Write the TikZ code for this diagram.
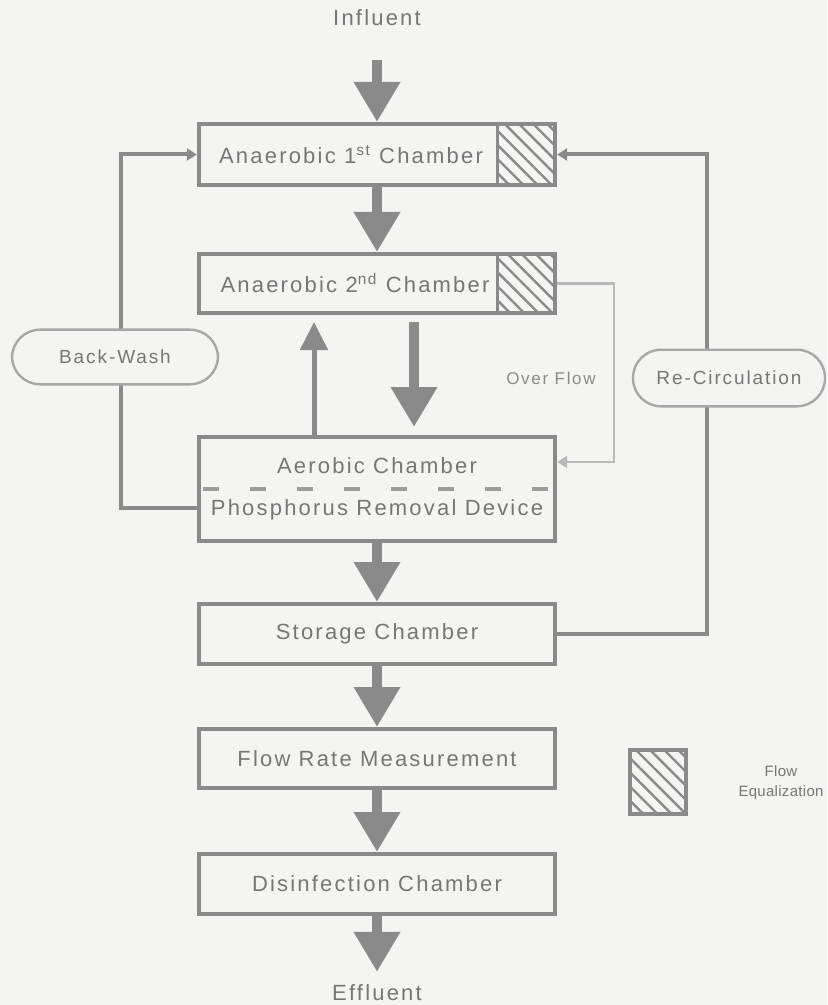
\documentclass[tikz,border=0pt]{standalone}
\usepackage{fontspec}
\setmainfont{Liberation Sans}[LetterSpace=10]
\usetikzlibrary{arrows.meta,patterns.meta}
\definecolor{boxgray}{RGB}{138,138,138}
\definecolor{txtgray}{RGB}{118,118,118}
\definecolor{paper}{RGB}{244,244,242}

\begin{document}
\begin{tikzpicture}[x=0.5pt, y=-0.5pt,
	every node/.style={font=\fontsize{11}{13}\selectfont, text=txtgray},
	chamber/.style={draw=boxgray, line width=2.2pt, fill=paper, minimum width=178pt, inner sep=0pt},
	flow/.style={draw=boxgray, line width=5pt, -{Triangle[length=20pt, width=22pt]}},
	thinflow/.style={draw=boxgray, line width=2.5pt, -{Triangle[length=14pt, width=13.5pt]}},
	loopline/.style={draw=boxgray, line width=2pt, -{Triangle[length=5pt, width=6pt]}},
	overline/.style={draw=boxgray!60, line width=1.2pt, -{Triangle[length=5pt, width=6pt]}},
	tag/.style={draw=boxgray!75, line width=1.2pt, fill=paper, rounded corners=14pt, font=\fontsize{9.5}{11}\selectfont},
	hatch/.style={pattern={Lines[angle=-45, distance=5pt, line width=1.2pt]}, pattern color=boxgray}]
	\fill[paper] (0,0) rectangle (827,1005);
	\useasboundingbox (0,0) rectangle (827,1005);

	\node (influent) at (377,18) {Influent};
	\node[chamber, minimum height=30.3pt] (an1) at (377,154.5) {Anaerobic 1\textsuperscript{st} Chamber\kern26pt\null};
	\node[chamber, minimum height=29.3pt] (an2) at (377,283.5) {Anaerobic 2\textsuperscript{nd} Chamber\kern22pt\null};
	\node[chamber, minimum height=51.8pt, align=center] (aer) at (377,489) {Aerobic Chamber\\[8pt]Phosphorus Removal Device};
	\node[chamber, minimum height=29.8pt] (sto) at (377,634) {Storage Chamber};
	\node[chamber, minimum height=29.3pt] (rate) at (377,758.5) {Flow Rate Measurement};
	\node[chamber, minimum height=29.8pt] (dis) at (377,884) {Disinfection Chamber};
	\node (effluent) at (377,993) {Effluent};

	% flow equalization parts
	\path[hatch] ([shift={(-30pt,-2.2pt)}]an1.north east) rectangle ([shift={(-2.2pt,2.2pt)}]an1.south east);
	\draw[boxgray, line width=1.5pt] ([shift={(-30pt,-2.2pt)}]an1.north east) -- ([shift={(-30pt,2.2pt)}]an1.south east);
	\path[hatch] ([shift={(-30pt,-2.2pt)}]an2.north east) rectangle ([shift={(-2.2pt,2.2pt)}]an2.south east);
	\draw[boxgray, line width=1.5pt] ([shift={(-30pt,-2.2pt)}]an2.north east) -- ([shift={(-30pt,2.2pt)}]an2.south east);
	\draw[boxgray!85, line width=2pt, dash pattern=on 8pt off 15.5pt, dash phase=-3pt] (aer.west) -- (aer.east);

	% main line
	\draw[flow, shorten <=13.5pt] (influent) -- (an1);
	\draw[flow] (an1) -- (an2);
	\draw[flow, shorten <=3.5pt, shorten >=4pt] ([xshift=18.5pt]an2.south) -- ([xshift=18.5pt]aer.north);
	\draw[thinflow, shorten >=3.5pt] ([xshift=-31.5pt]aer.north) -- ([xshift=-31.5pt]an2.south);
	\draw[flow] (aer) -- (sto);
	\draw[flow] (sto) -- (rate);
	\draw[flow] (rate) -- (dis);
	\draw[flow, shorten >=3pt] (dis) -- (effluent);

	% side loops
	\coordinate (bwcol) at (121,400);
	\coordinate (rccol) at (707,400);
	\coordinate (ofcol) at (614,400);
	\draw[loopline] ([yshift=-9.5pt]aer.west) -| (bwcol |- an1.west) -- (an1.west);
	\draw[loopline] (sto.east) -| (rccol |- an1.east) -- (an1.east);
	\draw[overline] (an2.east) -- (an2.east -| ofcol) |- ([yshift=13.5pt]aer.east);

	\node[tag, minimum width=103pt, minimum height=27.3pt] (backwash) at (115,357) {Back-Wash};
	\node[tag, minimum width=96pt, minimum height=28.3pt] (recirc) at (729,378) {Re-Circulation};
	\node[font=\fontsize{8.5}{10}\selectfont, text=txtgray!85] (overflow) at (551,378) {Over Flow};

	% legend
	\node[draw=boxgray, line width=2pt, hatch, minimum width=28pt, minimum height=32pt] (eqkey) at (658,782) {};
	\node[font=\fontsize{7.5}{10}\selectfont\addfontfeature{LetterSpace=2}, align=center] (eqlabel) at (781,783) {Flow\\Equalization};
\end{tikzpicture}
\end{document}
